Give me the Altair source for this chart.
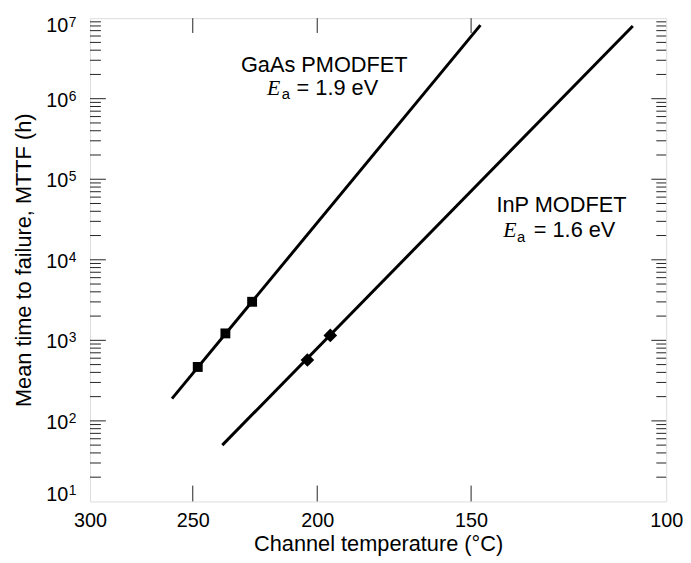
import altair as alt
import pandas as pd

# ---- data ----
gaas_line_T = [259.4, 147.3]
gaas_line_mttf = [189, 8.2e6]
gaas_pts_T = [247.8, 235.9, 224.9]
gaas_pts_mttf = [467, 1219, 3010]
inp_line_T = [237.2, 107.7]
inp_line_mttf = [50, 7.98e6]
inp_pts_T = [203.6, 195.3]
inp_pts_mttf = [569, 1151]
x_tick_labels = [300, 250, 200, 150, 100]
x_inner_ticks = [250, 200, 150]
y_decades = [1, 2, 3, 4, 5, 6, 7]
y_major_inner = [2, 3, 4, 5, 6]
y_minor_mult = [2, 3, 4, 5, 6, 7, 8, 9]

W, H = 583, 489
FONT = "Liberation Sans"
INV = "1000/(datum.T + 273.15)"


def inv(t):
    return 1000.0 / (t + 273.15)


xscale = alt.Scale(domain=[inv(300), inv(100)], nice=False, zero=False)
yscale = alt.Scale(type="log", domain=[10, 1e7], nice=False)

lines_df = pd.DataFrame({
    "T": gaas_line_T + inp_line_T,
    "mttf": gaas_line_mttf + inp_line_mttf,
    "device": ["GaAs PMODFET"] * 2 + ["InP MODFET"] * 2,
})
gaas_df = pd.DataFrame({"T": gaas_pts_T, "mttf": gaas_pts_mttf})
inp_df = pd.DataFrame({"T": inp_pts_T, "mttf": inp_pts_mttf})

xaxis = alt.Axis(
    values=[inv(t) for t in x_tick_labels],
    labelExpr="format(1000/datum.value - 273.15, '.0f')",
    ticks=False, domain=False, grid=False,
    labelFont=FONT, labelFontSize=20, labelColor="black",
    labelPadding=9, labelFlush=False,
    title="Channel temperature (°C)", titleFont=FONT, titleFontSize=22,
    titleFontWeight="normal", titleColor="black", titlePadding=4,
)
yaxis = alt.Axis(
    labels=False, ticks=False, domain=False, grid=False,
    title="Mean time to failure, MTTF (h)", titleFont=FONT, titleFontSize=22,
    titleFontWeight="normal", titleColor="black", titlePadding=55,
)

lines = alt.Chart(lines_df).transform_calculate(inv=INV).mark_line(
    color="black", strokeWidth=3
).encode(
    x=alt.X("inv:Q", scale=xscale, axis=xaxis),
    y=alt.Y("mttf:Q", scale=yscale, axis=yaxis),
    detail="device:N",
)

sq = alt.Chart(gaas_df).transform_calculate(inv=INV).mark_point(
    shape="square", filled=True, size=100, color="black", opacity=1
).encode(x=alt.X("inv:Q"), y=alt.Y("mttf:Q"))

dm = alt.Chart(inp_df).transform_calculate(inv=INV).mark_point(
    shape="diamond", filled=True, size=190, color="black", opacity=1
).encode(x=alt.X("inv:Q"), y=alt.Y("mttf:Q"))

# inward ticks
major_df = pd.DataFrame({"v": [10.0 ** d for d in y_major_inner]})
minor_df = pd.DataFrame({"v": [m * 10.0 ** d for d in range(1, 7) for m in y_minor_mult]})
xt_df = pd.DataFrame({"T": x_inner_ticks})

tick_color = "#222"
yl_major = alt.Chart(major_df).mark_rule(color=tick_color, strokeWidth=1).encode(
    y=alt.Y("v:Q"), x=alt.value(0), x2=alt.value(16))
yl_minor = alt.Chart(minor_df).mark_rule(color=tick_color, strokeWidth=1).encode(
    y=alt.Y("v:Q"), x=alt.value(0), x2=alt.value(11))
yr_major = alt.Chart(major_df).mark_rule(color=tick_color, strokeWidth=1).encode(
    y=alt.Y("v:Q"), x=alt.value(W), x2=alt.value(W - 15))
yr_minor = alt.Chart(minor_df).mark_rule(color=tick_color, strokeWidth=1).encode(
    y=alt.Y("v:Q"), x=alt.value(W), x2=alt.value(W - 10))
xb = alt.Chart(xt_df).transform_calculate(inv=INV).mark_rule(color=tick_color, strokeWidth=1).encode(
    x=alt.X("inv:Q"), y=alt.value(H), y2=alt.value(H - 16))
xt = alt.Chart(xt_df).transform_calculate(inv=INV).mark_rule(color=tick_color, strokeWidth=1).encode(
    x=alt.X("inv:Q"), y=alt.value(0), y2=alt.value(15))

# y tick labels as 10 + superscript exponent
dec_df = pd.DataFrame({"e": y_decades})
dec_base = alt.Chart(dec_df).transform_calculate(v="pow(10, datum.e)", base="'10'", ex="'' + datum.e")


def ylab(filter_expr, dy_base, dy_exp):
    b = dec_base.transform_filter(filter_expr)
    t1 = b.mark_text(font=FONT, fontSize=20, align="right", baseline="alphabetic", dy=dy_base,
                     color="black").encode(y=alt.Y("v:Q"), x=alt.value(-22), text="base:N")
    t2 = b.mark_text(font=FONT, fontSize=14, align="left", baseline="alphabetic", dy=dy_exp,
                     color="black").encode(y=alt.Y("v:Q"), x=alt.value(-21.5), text="ex:N")
    return t1 + t2


ylabels = (ylab("datum.e > 1 && datum.e < 7", 8, 2)
           + ylab("datum.e == 7", 14, 9)
           + ylab("datum.e == 1", 0, -6))


def txt(s, x, y, size=22, align="left", font=FONT, style="normal"):
    return alt.Chart(alt.Data(values=[{"s": s}])).mark_text(
        font=font, fontSize=size, align=align, baseline="alphabetic",
        fontStyle=style, color="black"
    ).encode(x=alt.value(x), y=alt.value(y), text="s:N")


ann = (
    txt("GaAs PMODFET", 237, 54, align="center")
    + txt("E", 179, 78, size=22, font="Liberation Serif", style="italic")
    + txt("a", 194, 82, size=15)
    + txt("= 1.9 eV", 209, 78)
    + txt("InP MODFET", 477, 196, align="center")
    + txt("E", 418, 221, size=22, font="Liberation Serif", style="italic")
    + txt("a", 432, 226, size=15)
    + txt("= 1.6 eV", 449, 221)
)

chart = alt.layer(
    lines, sq, dm, yl_major, yl_minor, yr_major, yr_minor, xb, xt, ylabels, ann
).properties(
    width=W, height=H,
    autosize=alt.AutoSizeParams(type="none"),
    padding={"left": 83, "top": 7, "right": 17, "bottom": 56},
).configure_view(stroke="black", strokeWidth=2.5).configure(font=FONT)

chart.save("out.html", embed_options={"renderer": "svg", "actions": False})
